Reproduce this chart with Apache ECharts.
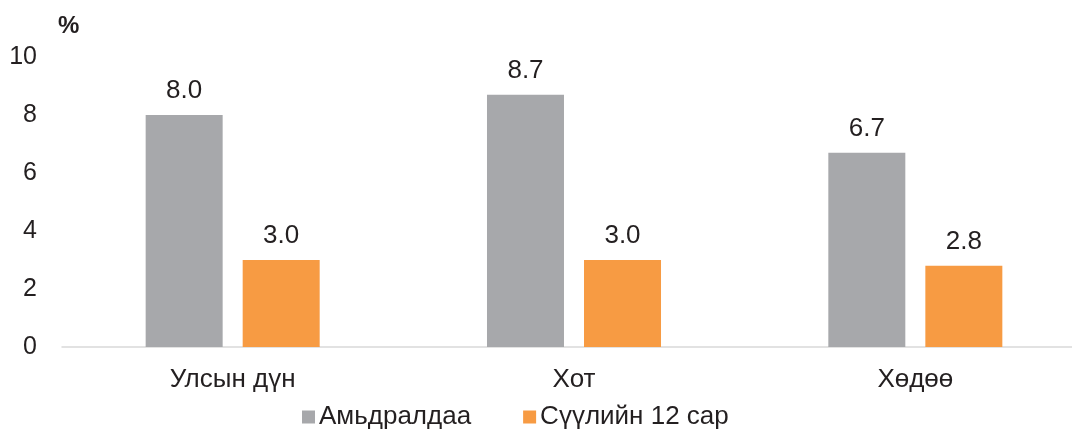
<!DOCTYPE html>
<html>
<head>
<meta charset="utf-8">
<script src="https://cdn.jsdelivr.net/npm/echarts@6/dist/echarts.min.js"></script>
<style>
  html, body { margin: 0; padding: 0; background: #fff; overflow: hidden; }
  #chart { width: 1086px; height: 431px; }
</style>
</head>
<body>
<div id="chart"></div>
<script>
const categories = ['Улсын дүн', 'Хот', 'Хөдөө'];
const seriesNames = ['Амьдралдаа', 'Сүүлийн 12 сар'];
const lifetime = [8.0, 8.7, 6.7];
const last12 = [3.0, 3.0, 2.8];

// chart div is a bit wider than the window: the axis runs off the right edge in the original
const myChart = echarts.init(document.getElementById('chart'));
const font = '"Liberation Sans", Arial, sans-serif';
const ink = '#231f20';
const option = {
  color: ['#a7a8ab', '#f79b43'],
  textStyle: { fontFamily: font },
  legend: {
    data: seriesNames,
    left: 297,
    top: 399,
    itemWidth: 13,
    itemHeight: 13,
    itemGap: 52,
    icon: 'rect',
    textStyle: { fontFamily: font, fontSize: 26, color: ink, padding: [0, 0, 0, -1] }
  },
  grid: {
    left: 62,
    top: 57,
    right: 0,
    height: 290,
    containLabel: false
  },
  xAxis: {
    type: 'category',
    data: categories,
    axisLine: { lineStyle: { color: '#d9d9d9', width: 1.5 } },
    axisTick: { show: false },
    axisLabel: { fontFamily: font, fontSize: 26, color: ink, margin: 20 }
  },
  yAxis: {
    type: 'value',
    min: 0,
    max: 10,
    interval: 2,
    name: '%',
    nameLocation: 'end',
    nameGap: 19,
    nameTextStyle: { fontFamily: font, fontSize: 24, fontWeight: 'bold', color: ink, align: 'left', padding: [0, 0, 0, -4] },
    axisLine: { show: false },
    axisTick: { show: false },
    splitLine: { show: false },
    axisLabel: { fontFamily: font, fontSize: 25, color: ink, margin: 25 }
  },
  series: [
    {
      name: seriesNames[0],
      type: 'bar',
      data: lifetime,
      barWidth: 77,
      barGap: '26%',
      label: {
        show: true,
        position: 'top',
        distance: 11,
        formatter: p => p.value.toFixed(1),
        fontFamily: font,
        fontSize: 26,
        color: ink
      }
    },
    {
      name: seriesNames[1],
      type: 'bar',
      data: last12,
      barWidth: 77,
      barGap: '26%',
      label: {
        show: true,
        position: 'top',
        distance: 11,
        formatter: p => p.value.toFixed(1),
        fontFamily: font,
        fontSize: 26,
        color: ink
      }
    }
  ]
};
myChart.setOption(option);
</script>
</body>
</html>
